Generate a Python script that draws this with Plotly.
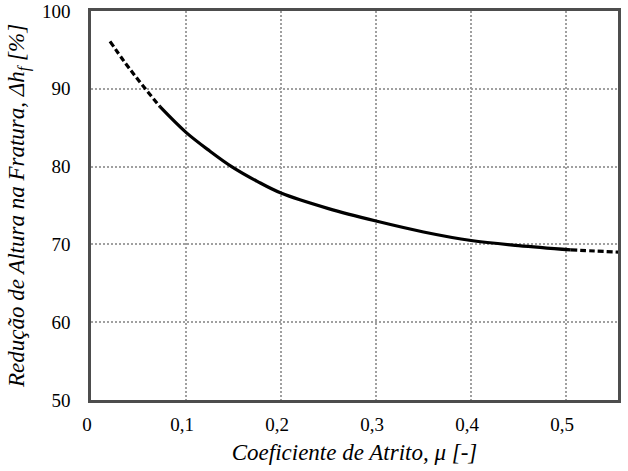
import plotly.graph_objects as go

# Data
mu_dash_start = [0.02, 0.035, 0.05, 0.0726]
red_dash_start = [96.1, 93.5, 91.1, 87.7]

mu_solid = [0.0726, 0.1, 0.125, 0.148, 0.175, 0.2, 0.25, 0.3, 0.35, 0.4, 0.45, 0.505]
red_solid = [87.7, 84.4, 82.0, 80.0, 78.1, 76.6, 74.6, 73.0, 71.6, 70.5, 69.85, 69.3]

mu_dash_end = [0.505, 0.53, 0.556]
red_dash_end = [69.3, 69.15, 69.0]

x_tickvals = [0, 0.1, 0.2, 0.3, 0.4, 0.5]
x_ticktext = ["0", "0,1", "0,2", "0,3", "0,4", "0,5"]
y_tickvals = [50, 60, 70, 80, 90, 100]

FONT = "Liberation Serif"

fig = go.Figure()
fig.add_trace(go.Scatter(x=mu_dash_start, y=red_dash_start, mode="lines",
                         line=dict(color="black", width=3.2, dash="6px,3px", shape="spline"),
                         showlegend=False, hoverinfo="skip"))
fig.add_trace(go.Scatter(x=mu_solid, y=red_solid, mode="lines",
                         line=dict(color="black", width=3.2, shape="spline"),
                         showlegend=False))
fig.add_trace(go.Scatter(x=mu_dash_end, y=red_dash_end, mode="lines",
                         line=dict(color="black", width=3.2, dash="6px,3px", shape="spline"),
                         showlegend=False, hoverinfo="skip"))

fig.update_layout(
    width=628, height=471,
    margin=dict(l=91, r=10, t=11, b=71, autoexpand=False),
    paper_bgcolor="white", plot_bgcolor="white",
    font=dict(family=FONT, size=19, color="black"),
)
fig.update_xaxes(
    range=[0, 0.5547], automargin=False,
    tickvals=x_tickvals, ticktext=x_ticktext,
    tickfont=dict(family=FONT, size=19, color="black"),
    ticks="", ticklabelshift=-4, ticklabelstandoff=5,
    showgrid=True, gridcolor="#a0a0a0", griddash="2px,2px", gridwidth=1.5,
    showline=True, mirror=True, linecolor="#4d4d4d", linewidth=2.5,
    zeroline=False,
    title=dict(text="<i>Coeficiente de Atrito, μ [-]</i>",
               font=dict(family=FONT, size=23, color="black"), standoff=11),
)
fig.update_yaxes(
    range=[50, 100], automargin=False,
    tickvals=y_tickvals,
    tickfont=dict(family=FONT, size=19, color="black"),
    ticks="", ticklabelstandoff=14, ticklabeloverflow="allow",
    showgrid=True, gridcolor="#a0a0a0", griddash="2px,2px", gridwidth=1.5,
    showline=True, mirror=True, linecolor="#4d4d4d", linewidth=2.5,
    zeroline=False,
    title=dict(text="<i>Redução de Altura na Fratura, Δh<sub>f</sub> [%]</i>",
               font=dict(family=FONT, size=23, color="black"), standoff=11),
)

fig.write_html("out.html", config={"displayModeBar": False},
               post_script="document.body.style.margin='0';")
